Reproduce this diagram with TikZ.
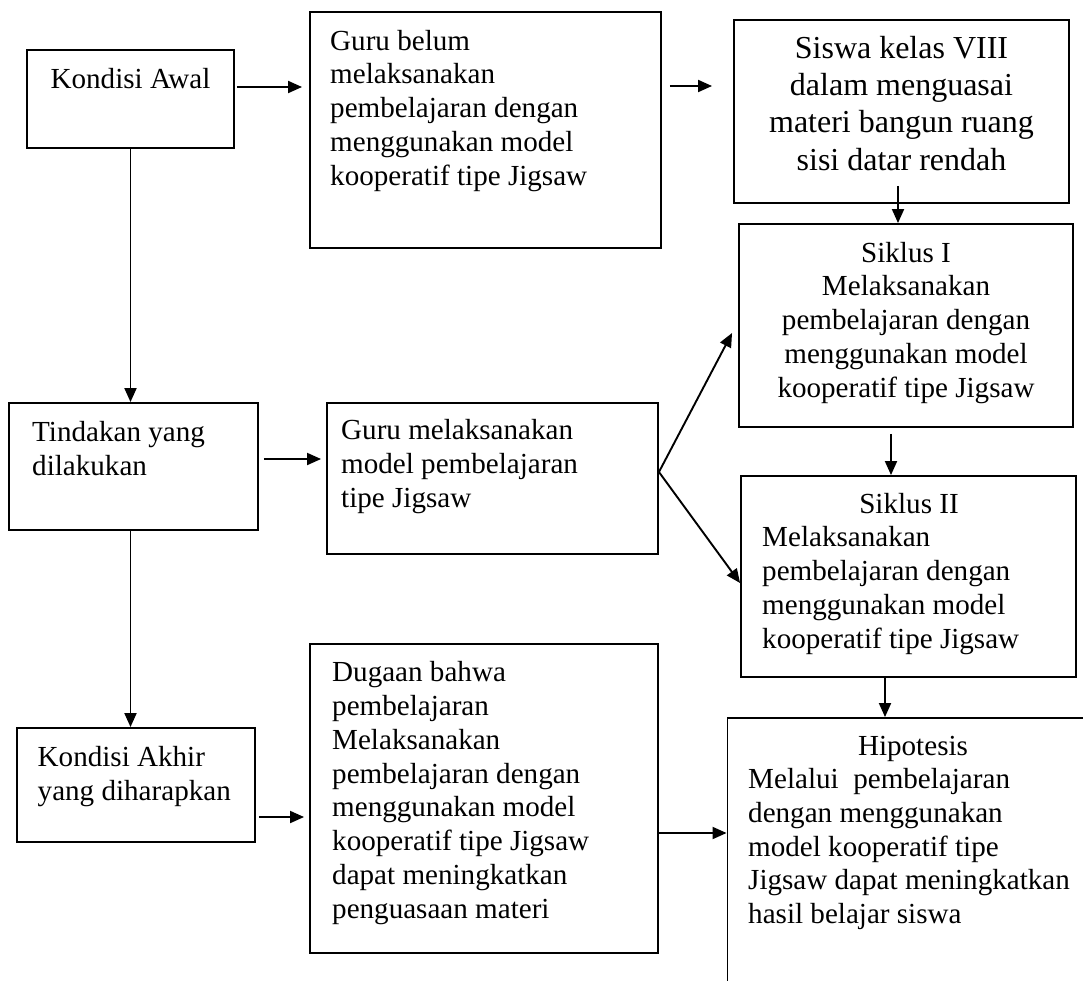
\documentclass[tikz,border=0pt]{standalone}
\usepackage{fontspec}
\setmainfont{Liberation Serif}
\usetikzlibrary{arrows.meta,calc}
\begin{document}
\begin{tikzpicture}[x=1pt,y=-1pt,
  box/.style={draw, line width=1.9pt, inner sep=0pt, rectangle},
  txt/.style={inner sep=0pt, font=\fontsize{29.1}{33.75}\selectfont},
  bigtxt/.style={inner sep=0pt, font=\fontsize{32}{37.3}\selectfont},
  arr/.style={line width=1.9pt, -{Triangle[length=14pt,width=12pt]}}]
\clip (0,0) rectangle (1083,980);
\fill[white] (0,0) rectangle (1083,980);
% boxes
\node[box, minimum width=207pt, minimum height=98pt] (KA) at (130.5,99) {};
\node[box, minimum width=351pt, minimum height=236pt] (GB) at (485.5,130) {};
\node[box, minimum width=335pt, minimum height=183pt] (SW) at (901.5,111.5) {};
\node[box, minimum width=249pt, minimum height=127pt] (TD) at (133.5,466.5) {};
\node[box, minimum width=331pt, minimum height=151pt] (GM) at (492.5,478.5) {};
\node[box, minimum width=334pt, minimum height=203pt] (S1) at (906,325.5) {};
\node[box, minimum width=335pt, minimum height=201pt] (S2) at (908.5,576.5) {};
\node[box, minimum width=238pt, minimum height=114pt] (KK) at (136,785) {};
\node[box, minimum width=348pt, minimum height=309pt] (DG) at (484,798.5) {};
\node[box, minimum width=372.5pt, minimum height=282pt] (HP) at (913.75,859) {};
% texts (anchored at the baseline of their last line)
\node[txt, anchor=base] (KAt) at (130.5,88) {Kondisi Awal};
\node[txt, anchor=base west, align=left] (GBt) at (330,185) {Guru belum\\melaksanakan\\pembelajaran dengan\\menggunakan model\\kooperatif tipe Jigsaw};
\node[bigtxt, anchor=base, align=center] (SWt) at (901.5,170) {Siswa kelas VIII\\dalam menguasai\\materi bangun ruang\\sisi datar rendah};
\node[txt, anchor=base west, align=left] (TDt) at (32,475) {Tindakan yang\\dilakukan};
\node[txt, anchor=base west, align=left] (GMt) at (341,507) {Guru melaksanakan\\model pembelajaran\\tipe Jigsaw};
\node[txt, anchor=base, align=center] (S1t) at (906,397) {Siklus I\\Melaksanakan\\pembelajaran dengan\\menggunakan model\\kooperatif tipe Jigsaw};
\node[txt, anchor=base] (S2a) at (909,513) {Siklus II};
\node[txt, anchor=base west, align=left] (S2t) at (762,648) {Melaksanakan\\pembelajaran dengan\\menggunakan model\\kooperatif tipe Jigsaw};
\node[txt, anchor=base west, align=left] (KKt) at (37.5,800) {Kondisi Akhir\\yang diharapkan};
\node[txt, anchor=base west, align=left] (DGt) at (332,918) {Dugaan bahwa\\pembelajaran\\Melaksanakan\\pembelajaran dengan\\menggunakan model\\kooperatif tipe Jigsaw\\dapat meningkatkan\\penguasaan materi};
\node[txt, anchor=base] (HPa) at (913,755) {Hipotesis};
\node[txt, anchor=base west, align=left] (HPt) at (748,923.5) {Melalui~ pembelajaran\\dengan menggunakan\\model kooperatif tipe\\Jigsaw dapat meningkatkan\\hasil belajar siswa};
% connectors
\draw[arr] ($(KA.east)+(2,-12)$) -- ($(GB.west)+(-7,-43)$);
\draw[arr] ($(GB.east)+(8,-44)$) -- ($(SW.west)+(-21,-25.5)$);
\draw[arr] ($(SW.south)+(-3.5,-18)$) -- ($(S1.north)+(-8,0)$);
\draw[arr] (KA.south) -- (KA.south |- TD.north);
\draw[arr] ($(TD.east)+(5,-7.5)$) -- ($(GM.west)+(-5,-19.5)$);
\coordinate (fork) at ($(GM.east)+(0,-6.5)$);
\draw[arr] (fork) -- ($(S1.west)+(-6,7.5)$);
\draw[arr] (fork) -- ($(S2.west)+(0,6.5)$);
\draw[arr] ($(S1.south)+(-15,6)$) -- ($(S2.north)+(-17.5,0)$);
\draw[arr] (KA.south |- TD.south) -- (KA.south |- KK.north);
\draw[arr] ($(KK.east)+(3,32)$) -- ($(DG.west)+(-5,18.5)$);
\draw[arr] ($(S2.south)+(-23.5,0)$) -- ($(HP.north)+(-28.75,0)$);
\draw[arr] ($(DG.east)+(0,34.5)$) -- ($(HP.west)+(0,-26)$);
\end{tikzpicture}
\end{document}
